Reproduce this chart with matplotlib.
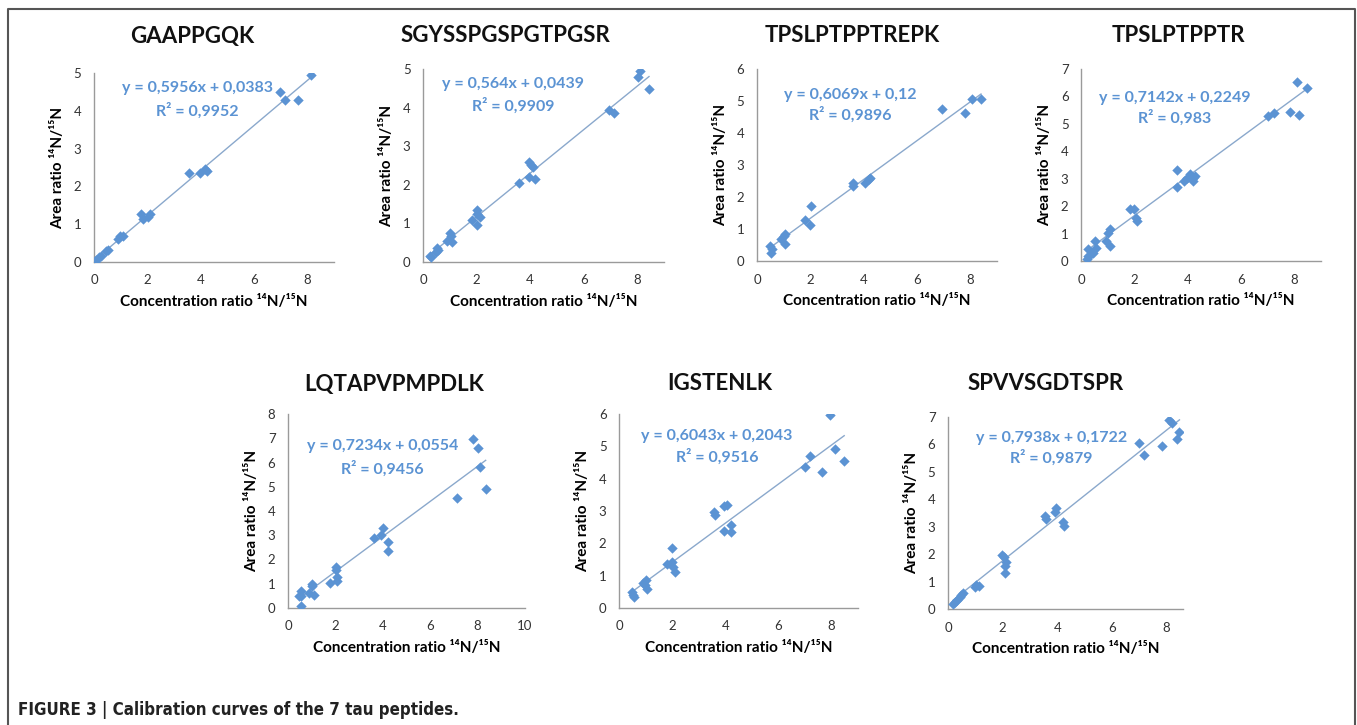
import matplotlib
matplotlib.use("Agg")
import matplotlib.pyplot as plt
from matplotlib.lines import Line2D

plt.rcParams.update({"font.family": ["Lato", "DejaVu Sans"], "font.size": 10})

W, H = 1357, 725

# ---- data ----
titles = ["GAAPPGQK", "SGYSSPGSPGTPGSR", "TPSLPTPPTREPK", "TPSLPTPPTR",
          "LQTAPVPMPDLK", "IGSTENLK", "SPVVSGDTSPR"]
slopes = [0.5956, 0.564, 0.6069, 0.7142, 0.7234, 0.6043, 0.7938]
intercepts = [0.0383, 0.0439, 0.12, 0.2249, 0.0554, 0.2043, 0.1722]
eq_text = ["y = 0,5956x + 0,0383", "y = 0,564x + 0,0439", "y = 0,6069x + 0,12",
           "y = 0,7142x + 0,2249", "y = 0,7234x + 0,0554", "y = 0,6043x + 0,2043",
           "y = 0,7938x + 0,1722"]
r2_text = ["R² = 0,9952", "R² = 0,9909", "R² = 0,9896", "R² = 0,983",
           "R² = 0,9456", "R² = 0,9516", "R² = 0,9879"]
ymax = [5, 5, 6, 7, 8, 6, 7]
xmax = [9, 9, 9, 9, 10, 9, 8.6]

x_gaap = [0.03, 0.09, 0.18, 0.28, 0.46, 0.53, 0.9, 0.99, 1.07, 1.78, 1.82, 2.03, 2.1,
          3.56, 3.96, 4.17, 4.23, 6.97, 7.16, 7.65, 8.13]
y_gaap = [0.0, 0.06, 0.12, 0.15, 0.29, 0.31, 0.62, 0.68, 0.68, 1.26, 1.15, 1.2, 1.26,
          2.36, 2.36, 2.45, 2.41, 4.5, 4.28, 4.28, 4.95]

x_sgys = [0.25, 0.31, 0.47, 0.52, 0.56, 0.91, 1.0, 1.06, 1.1, 1.82, 2.0, 2.03, 2.12, 2.0,
          3.6, 3.94, 4.02, 4.1, 3.97, 4.19, 6.94, 7.15, 8.02, 8.1, 8.44]
y_sgys = [0.16, 0.13, 0.27, 0.35, 0.3, 0.54, 0.75, 0.67, 0.53, 1.08, 1.34, 1.25, 1.17, 0.95,
          2.05, 2.6, 2.5, 2.47, 2.2, 2.16, 3.95, 3.85, 4.8, 4.94, 4.47]

x_tpre = [0.52, 0.5, 0.55, 0.9, 1.0, 1.05, 1.05, 1.8, 2.0, 2.03, 3.6, 3.6, 4.06, 4.2, 4.25,
          6.95, 7.8, 8.07, 8.4]
y_tpre = [0.26, 0.47, 0.36, 0.68, 0.78, 0.52, 0.83, 1.27, 1.11, 1.72, 2.34, 2.43, 2.45, 2.55, 2.6,
          4.74, 4.63, 5.07, 5.05]

x_tptr = [0.24, 0.28, 0.28, 0.36, 0.44, 0.52, 0.55, 0.93, 1.01, 1.1, 1.1, 1.83, 2.0, 2.07, 2.1,
          3.59, 3.59, 3.87, 3.98, 4.08, 4.2, 4.28, 4.2, 7.02, 7.22, 7.84, 8.16, 8.11, 8.49]
y_tptr = [0.08, 0.18, 0.42, 0.24, 0.3, 0.73, 0.49, 0.73, 1.03, 1.15, 0.55, 1.88, 1.9, 1.58, 1.46,
          3.31, 2.69, 2.91, 3.03, 3.16, 3.03, 3.1, 2.91, 5.28, 5.4, 5.42, 5.32, 6.52, 6.29]

x_lqta = [0.54, 0.46, 0.56, 0.54, 0.89, 1.03, 1.03, 1.08, 1.79, 2.01, 2.01, 2.08, 2.08,
          3.62, 3.92, 4.01, 4.2, 4.2, 7.11, 7.79, 8.0, 8.1, 8.34]
y_lqta = [0.69, 0.48, 0.48, 0.08, 0.62, 1.0, 0.9, 0.55, 1.03, 1.7, 1.56, 1.28, 1.12,
          2.87, 3.03, 3.31, 2.74, 2.34, 4.55, 6.98, 6.58, 5.83, 4.9]

x_igst = [0.5, 0.53, 0.55, 0.9, 0.97, 1.03, 1.07, 1.82, 2.0, 2.0, 2.04, 2.12,
          3.57, 3.6, 3.94, 4.05, 3.94, 4.23, 4.23, 7.0, 7.19, 7.66, 7.93, 8.15, 8.48]
y_igst = [0.5, 0.4, 0.34, 0.76, 0.71, 0.86, 0.6, 1.36, 1.85, 1.43, 1.28, 1.12,
          2.96, 2.89, 3.15, 3.2, 2.37, 2.58, 2.34, 4.35, 4.69, 4.22, 5.97, 4.92, 4.55]

x_spvv = [0.18, 0.24, 0.33, 0.43, 0.49, 0.55, 0.97, 1.04, 1.12, 1.97, 2.05, 2.12, 2.1, 2.1,
          3.56, 3.6, 3.92, 3.96, 4.2, 4.24, 6.98, 7.19, 7.83, 8.08, 8.2, 8.38, 8.47]
y_spvv = [0.19, 0.25, 0.34, 0.42, 0.52, 0.58, 0.82, 0.88, 0.85, 1.97, 1.91, 1.7, 1.55, 1.31,
          3.4, 3.28, 3.55, 3.67, 3.18, 3.04, 6.05, 5.6, 5.93, 6.88, 6.78, 6.21, 6.45]

xs = [x_gaap, x_sgys, x_tpre, x_tptr, x_lqta, x_igst, x_spvv]
ys = [y_gaap, y_sgys, y_tpre, y_tptr, y_lqta, y_igst, y_spvv]

# ---- layout in pixels: (left, right, top, bottom) of plot area ----
boxes = [(94, 334, 73, 262), (423, 664, 69, 262), (757, 997, 69, 261), (1081, 1321, 69, 261),
         (288, 525, 414, 608), (619, 858, 414, 608), (948, 1183, 417, 609)]
title_xy = [(192, 36), (505, 36), (852, 36), (1178, 36), (394, 384), (720, 384), (1046, 384)]
eq_pos = [(0.43, 0.92, 0.80), (0.375, 0.92, 0.81), (0.39, 0.865, 0.76), (0.39, 0.85, 0.745),
          (0.40, 0.835, 0.72), (0.41, 0.887, 0.78), (0.44, 0.89, 0.786)]

blue = "#5b93d3"
tcol = "#5b93d3"

fig = plt.figure(figsize=(W / 100, H / 100), dpi=100)

for i in range(7):
    l, r, t, b = boxes[i]
    ax = fig.add_axes([l / W, 1 - b / H, (r - l) / W, (b - t) / H])
    ax.scatter(xs[i], ys[i], marker="D", s=28, color=blue, zorder=3, linewidths=0)
    x0, x1 = min(xs[i]), max(xs[i])
    ax.plot([x0, x1], [slopes[i] * x0 + intercepts[i], slopes[i] * x1 + intercepts[i]],
            color="#8aa8cc", lw=1, zorder=2)
    ax.set_xlim(0, xmax[i]); ax.set_ylim(0, ymax[i])
    ax.set_xticks(range(0, int(xmax[i]) + 1, 2))
    ax.set_yticks(range(0, ymax[i] + 1))
    for s in ("top", "right"):
        ax.spines[s].set_visible(False)
    for s in ("left", "bottom"):
        ax.spines[s].set_color("#9a9a9a"); ax.spines[s].set_linewidth(1)
    ax.tick_params(length=0, labelsize=9.5, colors="#333333", pad=9)
    ax.set_xlabel("Concentration ratio ¹⁴N/¹⁵N", fontsize=11, fontweight="bold", labelpad=6)
    ax.set_ylabel("Area ratio ¹⁴N/¹⁵N", fontsize=11, fontweight="bold", labelpad=6)
    ex, ey1, ey2 = eq_pos[i]
    ax.text(ex, ey1, eq_text[i], transform=ax.transAxes, ha="center", va="center",
            color=tcol, fontsize=11.5, fontweight="bold")
    ax.text(ex, ey2, r2_text[i], transform=ax.transAxes, ha="center", va="center",
            color=tcol, fontsize=11.5, fontweight="bold")
    tx, ty = title_xy[i]
    fig.text(tx / W, 1 - ty / H, titles[i], ha="center", va="center",
             fontsize=16, fontweight="bold", color="#111111")

# frame around the figure panel (open at the bottom)
fig.add_artist(Line2D([8 / W, 8 / W, 1355 / W, 1355 / W], [0, 1 - 9 / H, 1 - 9 / H, 0],
                      color="#555555", lw=1.5, transform=fig.transFigure))

fig.text(18 / W, 1 - 710 / H, "FIGURE 3 | Calibration curves of the 7 tau peptides.",
         ha="left", va="center", fontsize=12.2, fontweight="bold",
         family="DejaVu Sans", fontstretch="condensed", color="#222222")

fig.savefig("out.png", dpi=100)
